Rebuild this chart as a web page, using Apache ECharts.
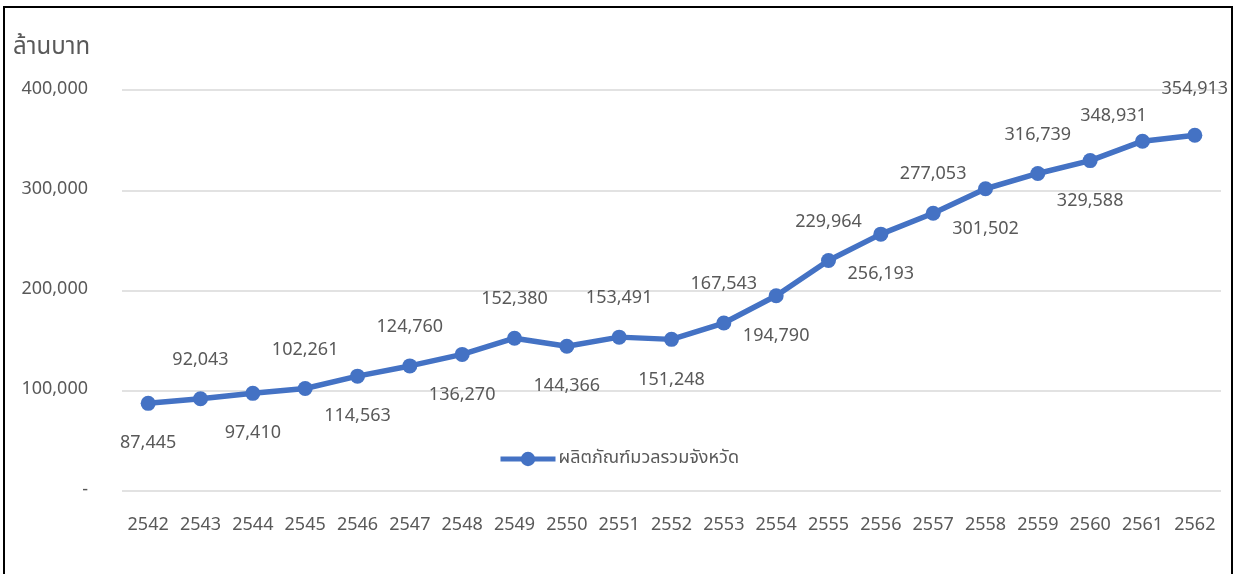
<!DOCTYPE html>
<html>
<head>
<meta charset="utf-8">
<script src="https://cdn.jsdelivr.net/npm/echarts@6/dist/echarts.min.js"></script>
<style>
  html, body { margin: 0; padding: 0; background: #fff; }
  #chart { width: 1236px; height: 574px; }
  .frame {
    position: absolute;
    left: 3px;
    top: 6px;
    width: 1226px;
    height: 600px;
    border: 2px solid #000;
    pointer-events: none;
  }
</style>
</head>
<body>
<div id="chart"></div>
<div class="frame"></div>
<script>
const years = ['2542', '2543', '2544', '2545', '2546', '2547', '2548', '2549', '2550', '2551', '2552',
  '2553', '2554', '2555', '2556', '2557', '2558', '2559', '2560', '2561', '2562']
const gpp = [87445, 92043, 97410, 102261, 114563, 124760, 136270, 152380, 144366, 153491, 151248,
  167543, 194790, 229964, 256193, 277053, 301502, 316739, 329588, 348931, 354913]
const seriesName = 'ผลิตภัณฑ์มวลรวมจังหวัด'
const unitLabel = 'ล้านบาท'

// which side Excel put each data label on
const labelSide = ['bottom', 'top', 'bottom', 'top', 'bottom', 'top', 'bottom', 'top', 'bottom', 'top', 'bottom',
  'top', 'bottom', 'top', 'bottom', 'top', 'bottom', 'top', 'bottom', 'top', 'top']
// the last two labels were nudged by hand in the original
const labelNudge = { 19: [-29, 14], 20: [0, -7] }

const font = 'Tahoma, "Noto Sans Thai", "Noto Sans", sans-serif'
const textColor = '#595959'
const blue = '#4472c4'

function fmt(v) {
  return Number(v).toLocaleString('en-US')
}

const chart = echarts.init(document.getElementById('chart'))

chart.setOption({
  animation: false,
  textStyle: { fontFamily: font },
  grid: { left: 122, right: 15, top: 90, bottom: 83 },
  legend: {
    left: 498,
    top: 450,
    padding: 0,
    itemWidth: 55,
    itemHeight: 18,
    itemGap: 4,
    lineStyle: { width: 5 },
    textStyle: { color: textColor, fontSize: 18, fontFamily: font, padding: [0, 0, 0, -2] },
    data: [seriesName]
  },
  graphic: [
    {
      type: 'text',
      left: 13,
      top: 37,
      style: { text: unitLabel, fill: textColor, fontSize: 24, fontFamily: font }
    }
  ],
  xAxis: {
    type: 'category',
    data: years,
    axisLine: { show: false },
    axisTick: { show: false },
    axisLabel: { color: textColor, fontSize: 18, margin: 26, interval: 0 }
  },
  yAxis: {
    type: 'value',
    min: 0,
    max: 400000,
    interval: 100000,
    axisLine: { show: false },
    axisTick: { show: false },
    axisLabel: {
      color: textColor,
      fontSize: 18,
      margin: 34,
      formatter(v) {
        return v === 0 ? '-' : fmt(v)
      }
    },
    splitLine: { lineStyle: { color: '#d9d9d9', width: 1.5 } }
  },
  series: [
    {
      name: seriesName,
      type: 'line',
      data: gpp.map((v, i) => ({
        value: v,
        label: {
          position: labelSide[i],
          distance: labelSide[i] === 'top' ? 21 : 25,
          offset: labelNudge[i] || [0, 0]
        }
      })),
      symbol: 'circle',
      symbolSize: 15,
      lineStyle: { color: blue, width: 5.5 },
      itemStyle: { color: blue },
      label: {
        show: true,
        color: textColor,
        fontSize: 18,
        formatter(p) {
          return fmt(p.value)
        }
      }
    }
  ]
})
</script>
</body>
</html>
